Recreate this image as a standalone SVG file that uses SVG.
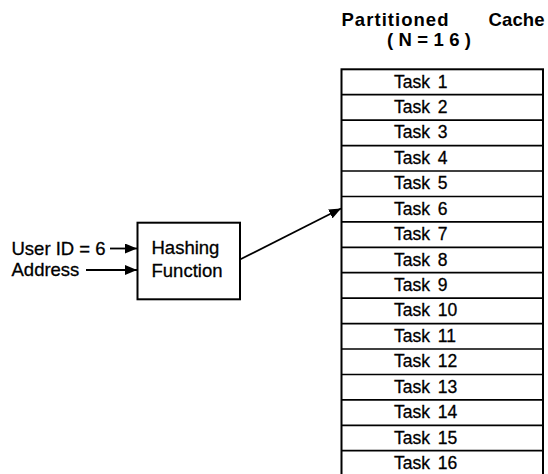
<svg xmlns="http://www.w3.org/2000/svg" width="548" height="474" viewBox="0 0 548 474">
  <style>
    .lbl { font-family: "Liberation Sans", Arial, Helvetica, sans-serif; font-size: 18.5px; fill: #000; stroke: #000; stroke-width: 0.3; }
    .task { font-family: "Liberation Sans", Arial, Helvetica, sans-serif; font-size: 17.5px; fill: #000; stroke: #000; stroke-width: 0.3; }
    .title { font-family: "Liberation Sans", Arial, Helvetica, sans-serif; font-size: 18.5px; font-weight: bold; fill: #000; }
    .box { fill: #fff; stroke: #000; stroke-width: 2; }
    .row { stroke: #000; stroke-width: 1.7; }
    .wire { fill: none; stroke: #000; stroke-width: 1.8; }
  </style>
  <defs>
    <marker id="head" viewBox="0 0 12 10" refX="12" refY="5" markerWidth="12" markerHeight="10" markerUnits="userSpaceOnUse" orient="auto">
      <path d="M0,0 L12,5 L0,10 Z" fill="#000"/>
    </marker>
  </defs>
  <rect width="548" height="474" fill="#fff"/>

  <!-- title -->
  <g id="title">
    <text class="title" x="341.5" y="26" textLength="107" lengthAdjust="spacing">Partitioned</text>
    <text class="title" x="488.5" y="26" textLength="56" lengthAdjust="spacing">Cache</text>
    <text class="title" x="387" y="45.5" textLength="84" lengthAdjust="spacing">(N=16)</text>
  </g>

  <!-- input labels -->
  <g id="user-id">
    <text class="lbl" x="11.5" y="254.5">User ID = 6</text>
  </g>
  <g id="address">
    <text class="lbl" x="11.5" y="276">Address</text>
  </g>

  <!-- hashing function -->
  <g id="hashing-function">
    <rect class="box" x="137.5" y="222.7" width="102.5" height="76.6"/>
    <text class="lbl" x="151.5" y="253.5">Hashing</text>
    <text class="lbl" x="151.5" y="276.7">Function</text>
  </g>

  <!-- partitioned cache: 16 rows -->
  <g id="cache">
    <rect class="box" x="341.5" y="69.3" width="201.5" height="410"/>
    <g class="row">
      <line x1="341.5" y1="94.7" x2="543" y2="94.7"/>
      <line x1="341.5" y1="120.2" x2="543" y2="120.2"/>
      <line x1="341.5" y1="145.6" x2="543" y2="145.6"/>
      <line x1="341.5" y1="171.0" x2="543" y2="171.0"/>
      <line x1="341.5" y1="196.5" x2="543" y2="196.5"/>
      <line x1="341.5" y1="221.9" x2="543" y2="221.9"/>
      <line x1="341.5" y1="247.3" x2="543" y2="247.3"/>
      <line x1="341.5" y1="272.7" x2="543" y2="272.7"/>
      <line x1="341.5" y1="298.2" x2="543" y2="298.2"/>
      <line x1="341.5" y1="323.6" x2="543" y2="323.6"/>
      <line x1="341.5" y1="349.0" x2="543" y2="349.0"/>
      <line x1="341.5" y1="374.5" x2="543" y2="374.5"/>
      <line x1="341.5" y1="399.9" x2="543" y2="399.9"/>
      <line x1="341.5" y1="425.3" x2="543" y2="425.3"/>
      <line x1="341.5" y1="450.7" x2="543" y2="450.7"/>
    </g>
    <g id="task-1"><text class="task" x="394" y="87.5">Task <tspan dx="3">1</tspan></text></g>
    <g id="task-2"><text class="task" x="394" y="112.9">Task <tspan dx="3">2</tspan></text></g>
    <g id="task-3"><text class="task" x="394" y="138.4">Task <tspan dx="3">3</tspan></text></g>
    <g id="task-4"><text class="task" x="394" y="163.8">Task <tspan dx="3">4</tspan></text></g>
    <g id="task-5"><text class="task" x="394" y="189.2">Task <tspan dx="3">5</tspan></text></g>
    <g id="task-6"><text class="task" x="394" y="214.6">Task <tspan dx="3">6</tspan></text></g>
    <g id="task-7"><text class="task" x="394" y="240.1">Task <tspan dx="3">7</tspan></text></g>
    <g id="task-8"><text class="task" x="394" y="265.5">Task <tspan dx="3">8</tspan></text></g>
    <g id="task-9"><text class="task" x="394" y="290.9">Task <tspan dx="3">9</tspan></text></g>
    <g id="task-10"><text class="task" x="394" y="316.4">Task <tspan dx="3">10</tspan></text></g>
    <g id="task-11"><text class="task" x="394" y="341.8">Task <tspan dx="3">11</tspan></text></g>
    <g id="task-12"><text class="task" x="394" y="367.2">Task <tspan dx="3">12</tspan></text></g>
    <g id="task-13"><text class="task" x="394" y="392.7">Task <tspan dx="3">13</tspan></text></g>
    <g id="task-14"><text class="task" x="394" y="418.1">Task <tspan dx="3">14</tspan></text></g>
    <g id="task-15"><text class="task" x="394" y="443.5">Task <tspan dx="3">15</tspan></text></g>
    <g id="task-16"><text class="task" x="394" y="468.9">Task <tspan dx="3">16</tspan></text></g>
  </g>

  <!-- connectors -->
  <g id="connectors">
    <line class="wire" x1="110" y1="248.5" x2="137" y2="248.5" marker-end="url(#head)"/>
    <line class="wire" x1="86" y1="270" x2="137" y2="270" marker-end="url(#head)"/>
    <line class="wire" x1="240" y1="259.5" x2="341" y2="208.5" marker-end="url(#head)"/>
  </g>
</svg>
